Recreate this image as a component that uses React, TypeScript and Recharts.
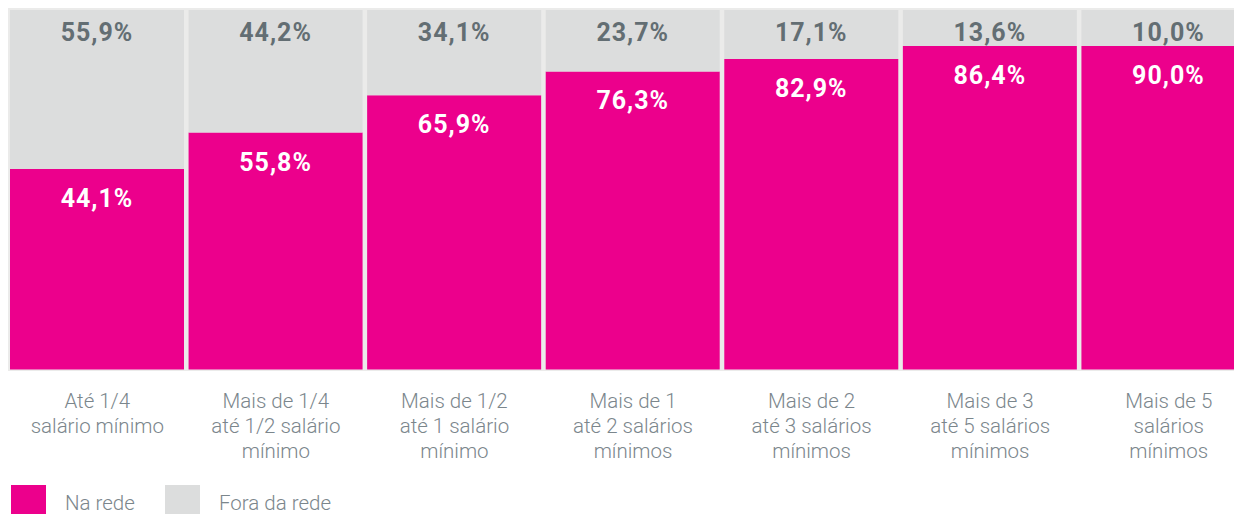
import React from "react";
import { BarChart, Bar, XAxis, YAxis, CartesianGrid, LabelList } from "recharts";

const categories = [
  "Até 1/4\nsalário mínimo",
  "Mais de 1/4\naté 1/2 salário\nmínimo",
  "Mais de 1/2\naté 1 salário\nmínimo",
  "Mais de 1\naté 2 salários\nmínimos",
  "Mais de 2\naté 3 salários\nmínimos",
  "Mais de 3\naté 5 salários\nmínimos",
  "Mais de 5\nsalários\nmínimos",
];

// bar heights as drawn in the picture
const naRedeHeights = [55.8, 65.9, 76.3, 82.9, 86.4, 90.0, 90.0];
const foraRedeHeights = [44.2, 34.1, 23.7, 17.1, 13.6, 10.0, 10.0];

// printed labels
const naRedeLabels = ["44,1%", "55,8%", "65,9%", "76,3%", "82,9%", "86,4%", "90,0%"];
const foraRedeLabels = ["55,9%", "44,2%", "34,1%", "23,7%", "17,1%", "13,6%", "10,0%"];

const seriesNames = ["Na rede", "Fora da rede"];

const PINK = "#ec008c";
const GRAY = "#dcdddd";
const FRAME = "#ebebea";
const AXIS_TEXT = "#7b868c";
const GRAY_LABEL = "#636e73";
const FONT = "Roboto, 'DejaVu Sans', sans-serif";

const data = categories.map((name, i) => ({
  name,
  na: naRedeHeights[i],
  fora: foraRedeHeights[i],
  naLabel: naRedeLabels[i],
  foraLabel: foraRedeLabels[i],
}));

const ValueLabel = (fill: string, labels: string[], offset: number) => (props: any) => {
  const { x, y, width, index } = props;
  return (
    <text
      x={Number(x) + Number(width) / 2}
      y={Number(y) + offset}
      textAnchor="middle"
      fill={fill}
      fontFamily={FONT}
      fontWeight={700}
      fontSize={25}
      letterSpacing={1}
    >
      {labels[index]}
    </text>
  );
};

const CategoryTick = (props: any) => {
  const { x, y, payload } = props;
  const lines = String(payload.value).split("\n");
  return (
    <text
      x={x}
      y={y}
      textAnchor="middle"
      fill={AXIS_TEXT}
      fontFamily={FONT}
      fontWeight={300}
      fontSize={20.5}
    >
      {lines.map((l, i) => (
        <tspan key={i} x={x} dy={i === 0 ? 29 : 25}>
          {l}
        </tspan>
      ))}
    </text>
  );
};

export default function App() {
  return (
    <div style={{ position: "relative", width: 1234, height: 506, overflow: "hidden" }}>
      <style>{`body{overflow:hidden;margin:8px;}`}</style>
      <BarChart
        width={1250}
        height={506}
        data={data}
        margin={{ top: 0, right: 0, left: 0, bottom: 0 }}
        barSize={174}
        barGap={0}
      >
        <CartesianGrid horizontal={false} vertical={false} fill={FRAME} stroke="none" />
        <XAxis
          dataKey="name"
          axisLine={false}
          tickLine={false}
          interval={0}
          height={143}
          tick={<CategoryTick />}
        />
        <YAxis hide domain={[-0.42, 100.56]} allowDataOverflow />
        <Bar dataKey="na" stackId="a" fill={PINK} isAnimationActive={false}>
          <LabelList dataKey="naLabel" content={ValueLabel("#ffffff", naRedeLabels, 38)} />
        </Bar>
        <Bar dataKey="fora" stackId="a" fill={GRAY} isAnimationActive={false}>
          <LabelList dataKey="foraLabel" content={ValueLabel(GRAY_LABEL, foraRedeLabels, 31)} />
        </Bar>
      </BarChart>
      <div style={{ position: "absolute", left: 3, top: 477, width: 35, height: 35, background: PINK }} />
      <div
        style={{
          position: "absolute",
          left: 57,
          top: 478,
          height: 35,
          lineHeight: "35px",
          fontFamily: FONT,
          fontWeight: 300,
          fontSize: 20.5,
          color: AXIS_TEXT,
          whiteSpace: "nowrap",
        }}
      >
        {seriesNames[0]}
      </div>
      <div style={{ position: "absolute", left: 157, top: 477, width: 35, height: 35, background: GRAY }} />
      <div
        style={{
          position: "absolute",
          left: 211,
          top: 478,
          height: 35,
          lineHeight: "35px",
          fontFamily: FONT,
          fontWeight: 300,
          fontSize: 20.5,
          color: AXIS_TEXT,
          whiteSpace: "nowrap",
        }}
      >
        {seriesNames[1]}
      </div>
    </div>
  );
}
